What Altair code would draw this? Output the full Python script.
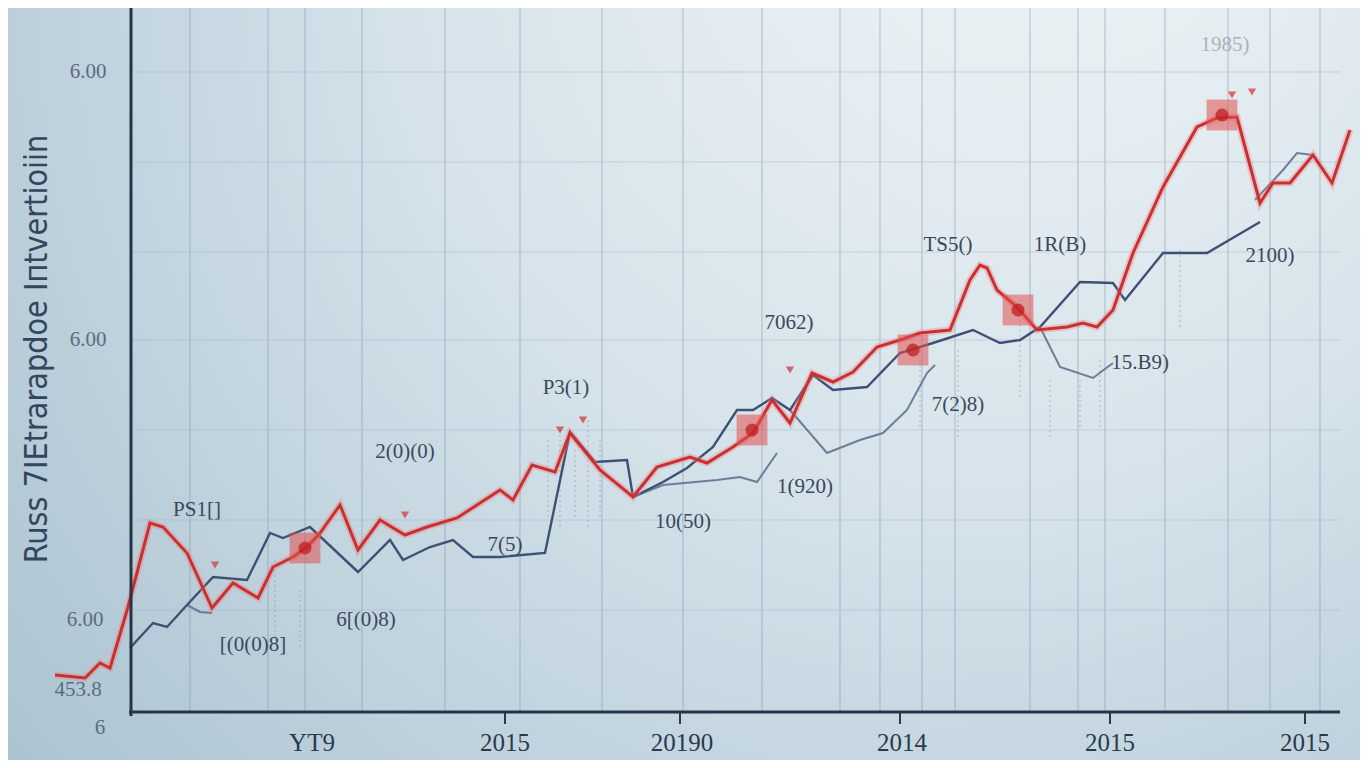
import altair as alt
import pandas as pd

# ---- data (x: horizontal units, y: value above baseline) ----
red_x = [55, 85, 100, 110, 128, 150, 163, 187, 212, 233, 258, 273, 293, 307, 320, 340, 358, 380, 405, 427,
         457, 480, 500, 513, 532, 555, 570, 600, 633, 657, 690, 707, 733, 753, 772, 790, 812, 833, 853, 877,
         900, 920, 950, 970, 980, 987, 997, 1017, 1037, 1067, 1083, 1097, 1113, 1133, 1163, 1197, 1217, 1237,
         1260, 1273, 1290, 1313, 1332, 1350]
red_py = [675, 678, 663, 668, 607, 523, 527, 553, 608, 583, 598, 567, 557, 547, 533, 505, 550, 520, 535, 527,
          518, 503, 490, 500, 465, 472, 433, 470, 497, 467, 457, 463, 447, 433, 400, 423, 373, 382, 372, 347,
          340, 333, 330, 280, 265, 268, 290, 307, 330, 327, 323, 327, 310, 253, 187, 127, 118, 117,
          203, 183, 183, 155, 183, 130]

navy_x = [130, 153, 167, 187, 213, 247, 270, 283, 310, 358, 390, 403, 430, 453, 473, 500, 545, 570, 595, 627,
          633, 663, 687, 713, 737, 753, 772, 790, 813, 833, 867, 900, 933, 973, 1000, 1020, 1040, 1080, 1113,
          1125, 1163, 1207, 1260]
navy_py = [648, 623, 627, 605, 577, 580, 533, 538, 527, 572, 540, 560, 547, 540, 557, 557, 553, 432, 462, 460,
           497, 482, 468, 447, 410, 410, 398, 410, 375, 390, 387, 353, 343, 330, 343, 340, 327, 282, 283,
           300, 253, 253, 222]

grey_seg = ["a", "a", "a", "b", "b", "b", "b", "b", "b", "c", "c", "c", "c", "c", "c", "c",
            "d", "d", "d", "d", "e", "e", "e", "e"]
grey_x = [187, 200, 212, 633, 663, 717, 740, 757, 777, 790, 827, 860, 883, 907, 927, 935,
          1040, 1060, 1093, 1113, 1255, 1283, 1297, 1313]
grey_py = [605, 612, 613, 497, 485, 480, 477, 482, 453, 410, 453, 440, 433, 410, 373, 365,
           327, 367, 378, 363, 200, 170, 153, 155]

marker_x = [305, 752, 913, 1018, 1222]
marker_py = [548, 430, 350, 310, 115]

arrow_x = [215, 405, 560, 583, 790, 1232, 1252]
arrow_py = [565, 515, 430, 420, 370, 95, 92]

note_text = ["PS1[]", "2(0)(0)", "P3(1)", "7062)", "TS5()", "1R(B)", "2100)", "15.B9)", "7(2)8)",
             "1(920)", "10(50)", "7(5)", "6[(0)8)", "[(0(0)8]", "1985)"]
note_x = [197, 405, 566, 789, 948, 1060, 1270, 1140, 958, 805, 683, 505, 366, 253, 1225]
note_py = [510, 452, 388, 323, 245, 245, 256, 363, 405, 487, 522, 545, 620, 645, 45]
note_op = [1, 1, 1, 1, 1, 1, 1, 1, 1, 1, 1, 1, 1, 1, 0.35]

ytick_text = ["6.00", "6.00", "6.00", "453.8", "6"]
ytick_x = [88, 88, 85, 78, 100]
ytick_py = [72, 340, 620, 690, 728]

xtick_text = ["YT9", "2015", "20190", "2014", "2015", "2015"]
xtick_x = [312, 505, 682, 902, 1110, 1305]
tick_marks_x = [505, 680, 900, 1110, 1305]

vgrid_x = [190, 268, 305, 362, 445, 520, 602, 683, 762, 840, 880, 922, 955, 1030, 1078, 1105, 1165, 1228, 1270, 1320]
hgrid_py = [72, 162, 252, 340, 430, 520, 610]

dot_x = [548, 560, 575, 588, 600, 275, 300, 920, 958, 1050, 1080, 1100, 1180, 1020]
dot_top = [440, 430, 450, 420, 440, 560, 590, 350, 350, 380, 380, 360, 250, 300]
dot_bot = [520, 530, 520, 530, 520, 640, 650, 430, 440, 440, 430, 430, 330, 400]

BASE = 712
def v(py):
    return BASE - py

X = alt.Scale(domain=[8, 1360], nice=False, zero=False)
Y = alt.Scale(domain=[BASE - 760, BASE - 8], nice=False, zero=False)

def xe(f="x"):
    return alt.X(f"{f}:Q", scale=X, axis=None)

def ye(f="y"):
    return alt.Y(f"{f}:Q", scale=Y, axis=None)

red = pd.DataFrame({"x": red_x, "y": [v(p) for p in red_py]})
navy = pd.DataFrame({"x": navy_x, "y": [v(p) for p in navy_py]})
grey = pd.DataFrame({"x": grey_x, "y": [v(p) for p in grey_py], "seg": grey_seg})
markers = pd.DataFrame({"x": marker_x, "y": [v(p) for p in marker_py]})
arrows = pd.DataFrame({"x": arrow_x, "y": [v(p) for p in arrow_py]})
notes = pd.DataFrame({"x": note_x, "y": [v(p) for p in note_py], "t": note_text, "o": note_op})
yt = pd.DataFrame({"x": ytick_x, "y": [v(p) for p in ytick_py], "t": ytick_text})
xt = pd.DataFrame({"x": xtick_x, "y": [v(743)] * len(xtick_x), "t": xtick_text})
tm = pd.DataFrame({"x": tick_marks_x, "y": [0] * 5, "y2": [-12] * 5})
vg = pd.DataFrame({"x": vgrid_x, "y": [0] * len(vgrid_x), "y2": [v(0)] * len(vgrid_x)})
hg = pd.DataFrame({"y": [v(p) for p in hgrid_py], "x": [131] * len(hgrid_py), "x2": [1340] * len(hgrid_py)})
dots = pd.DataFrame({"x": dot_x, "y": [v(p) for p in dot_top], "y2": [v(p) for p in dot_bot]})
axes_y = pd.DataFrame({"x": [131], "y": [-4], "y2": [v(0)]})
axes_x = pd.DataFrame({"y": [0], "x": [129], "x2": [1340]})
title_df = pd.DataFrame({"x": [37], "y": [v(349)], "t": ["Russ 7IEtrarapdoe   Iпtvertioiin"]})
bg_df = pd.DataFrame({"k": [1]})

bg = alt.Chart(bg_df).mark_rect(
    fill=alt.Gradient(
        gradient="radial", x1=0.8, y1=0.05, r1=0.0, x2=0.62, y2=0.3, r2=0.9,
        stops=[alt.GradientStop(offset=0, color="#f2f6f8"),
               alt.GradientStop(offset=0.45, color="#d7e4eb"),
               alt.GradientStop(offset=1, color="#a2bccc")]
    )
).encode(x=alt.value(0), x2=alt.value(1352), y=alt.value(0), y2=alt.value(752))

vgrid = alt.Chart(vg).mark_rule(color="#7f93a8", opacity=0.45, strokeWidth=1.2).encode(
    x=xe(), y=ye(), y2="y2:Q")
hgrid = alt.Chart(hg).mark_rule(color="#9fb2c2", opacity=0.45, strokeWidth=1).encode(
    y=ye(), x=xe(), x2="x2:Q")
dotted = alt.Chart(dots).mark_rule(color="#7a8a9c", opacity=0.55, strokeDash=[2, 3], strokeWidth=1).encode(
    x=xe(), y=ye(), y2="y2:Q")

grey_l = alt.Chart(grey).mark_line(color="#5f7290", strokeWidth=2, opacity=0.9).encode(
    x=xe(), y=ye(), detail="seg:N", order="x:Q")
navy_l = alt.Chart(navy).mark_line(color="#3d5174", strokeWidth=2.4).encode(x=xe(), y=ye(), order="x:Q")
red_glow = alt.Chart(red).mark_line(color="#e88080", strokeWidth=7, opacity=0.35).encode(x=xe(), y=ye(), order="x:Q")
red_l = alt.Chart(red).mark_line(color="#cc2f2f", strokeWidth=3).encode(x=xe(), y=ye(), order="x:Q")

sq = alt.Chart(markers).mark_square(color="#e2504e", opacity=0.55, size=950).encode(x=xe(), y=ye())
dot = alt.Chart(markers).mark_circle(color="#bf1f22", opacity=0.75, size=170).encode(x=xe(), y=ye())
arr = alt.Chart(arrows).mark_point(shape="triangle-down", filled=True, color="#cc3333", size=70).encode(x=xe(), y=ye())

note_l = alt.Chart(notes).mark_text(font="Liberation Serif", fontSize=21, color="#3a485c").encode(
    x=xe(), y=ye(), text="t:N", opacity=alt.Opacity("o:Q", scale=None, legend=None))
ytl = alt.Chart(yt).mark_text(font="Liberation Serif", fontSize=21, color="#5b6c80").encode(
    x=xe(), y=ye(), text="t:N")
xtl = alt.Chart(xt).mark_text(font="Liberation Serif", fontSize=25, color="#2b3a4f").encode(
    x=xe(), y=ye(), text="t:N")
tml = alt.Chart(tm).mark_rule(color="#2c3a4e", strokeWidth=2).encode(x=xe(), y=ye(), y2="y2:Q")
ax_y = alt.Chart(axes_y).mark_rule(color="#26344a", strokeWidth=3).encode(x=xe(), y=ye(), y2="y2:Q")
ax_x = alt.Chart(axes_x).mark_rule(color="#26344a", strokeWidth=3).encode(y=ye(), x=xe(), x2="x2:Q")
ttl = alt.Chart(title_df).mark_text(font="DejaVu Sans Condensed, Roboto, sans-serif", fontSize=32,
                                    color="#33465c", angle=270).encode(x=xe(), y=ye(), text="t:N")

chart = alt.layer(
    bg, vgrid, hgrid, dotted, grey_l, navy_l, red_glow, red_l, sq, dot, arr,
    note_l, ytl, xtl, tml, ax_y, ax_x, ttl
).properties(
    width=1352, height=752, padding=0, autosize=alt.AutoSizeParams(type="none"),
    background="#c5d6e0"
).configure_view(strokeWidth=0)

chart.save("out.html", embed_options={"renderer": "svg", "actions": False})
